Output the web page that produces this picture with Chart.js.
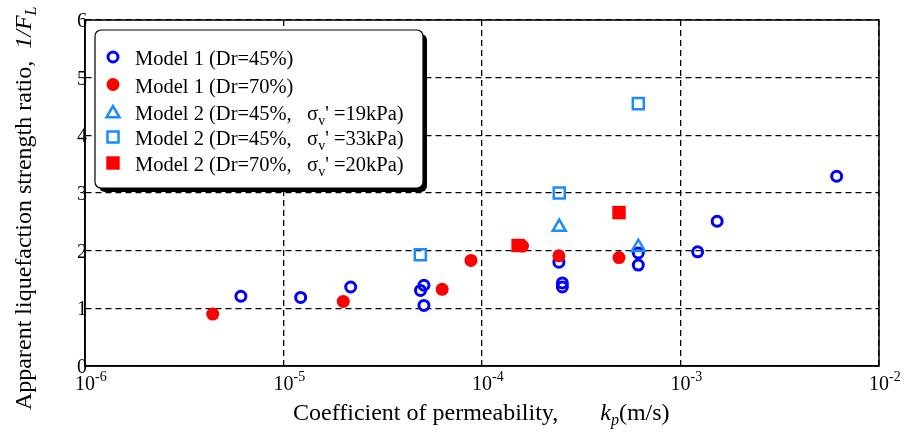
<!DOCTYPE html>
<html>
<head>
<meta charset="utf-8">
<script src="https://cdn.jsdelivr.net/npm/chart.js@4.4.0/dist/chart.umd.min.js"></script>
<style>
  html, body { margin: 0; padding: 0; background: #fff; }
  #wrap { width: 906px; height: 432px; position: relative; }
</style>
</head>
<body>
<div id="wrap"><canvas id="chart"></canvas></div>
<script>
// tick labels
const xTicks = [1e-6, 1e-5, 1e-4, 1e-3, 1e-2];
const xExps = ['-6', '-5', '-4', '-3', '-2'];
const yTicks = [0, 1, 2, 3, 4, 5, 6];

// Model 1 (Dr=45%)
const m1d45K = [6.1e-6, 1.22e-5, 2.18e-5, 4.9e-5, 5.1e-5, 5.1e-5, 2.44e-4, 2.54e-4, 2.54e-4, 6.13e-4, 6.13e-4, 1.22e-3, 1.53e-3, 6.12e-3];
const m1d45R = [1.21, 1.19, 1.37, 1.31, 1.40, 1.05, 1.80, 1.44, 1.37, 1.96, 1.75, 1.98, 2.51, 3.29];
// Model 1 (Dr=70%)
const m1d70K = [4.4e-6, 2.0e-5, 6.3e-5, 8.8e-5, 1.6e-4, 2.44e-4, 4.9e-4];
const m1d70R = [0.90, 1.12, 1.33, 1.83, 2.08, 1.91, 1.88];
// Model 2 (Dr=45%, 19kPa)
const m2s19K = [2.45e-4, 6.13e-4];
const m2s19R = [2.41, 2.06];
// Model 2 (Dr=45%, 33kPa)
const m2s33K = [4.89e-5, 2.45e-4, 6.13e-4];
const m2s33R = [1.93, 3.00, 4.55];
// Model 2 (Dr=70%, 20kPa)
const m2s20K = [1.52e-4, 4.9e-4];
const m2s20R = [2.09, 2.66];

const serif = '"Liberation Serif", "Times New Roman", serif';
const blue = '#0000ff';
const lightBlue = '#1a8cff';
const red = '#ff0000';

function pts(ks, rs) {
    return ks.map((k, i) => ({ x: k, y: rs[i] }));
}

const datasets = [
    { label: 'Model 1 (Dr=45%)', data: pts(m1d45K, m1d45R), pointStyle: 'circle', pointRadius: 5,
      pointBorderWidth: 3, pointBorderColor: blue, pointBackgroundColor: 'rgba(0,0,0,0)', order: 5 },
    { label: 'Model 1 (Dr=70%)', data: pts(m1d70K, m1d70R), pointStyle: 'circle', pointRadius: 6.5,
      pointBorderWidth: 0, pointBorderColor: red, pointBackgroundColor: red, order: 1 },
    { label: 'Model 2 (Dr=45%, 19kPa)', data: pts(m2s19K, m2s19R), pointStyle: 'triangle', pointRadius: 7.5,
      pointBorderWidth: 2.5, pointBorderColor: lightBlue, pointBackgroundColor: 'rgba(0,0,0,0)', order: 4 },
    { label: 'Model 2 (Dr=45%, 33kPa)', data: pts(m2s33K, m2s33R), pointStyle: 'rect', pointRadius: 7.8,
      pointBorderWidth: 2.5, pointBorderColor: lightBlue, pointBackgroundColor: 'rgba(0,0,0,0)', order: 3 },
    { label: 'Model 2 (Dr=70%, 20kPa)', data: pts(m2s20K, m2s20R), pointStyle: 'rect', pointRadius: 9.5,
      pointBorderWidth: 0, pointBorderColor: red, pointBackgroundColor: red, order: 2 }
];

// draw text pieces one after another
function rich(ctx, x, y, segs) {
    segs.forEach(s => {
        ctx.font = s.font;
        ctx.fillText(s.t, x, y + (s.dy || 0));
        x += ctx.measureText(s.t).width;
    });
    return x;
}

const f = (size, style) => (style ? style + ' ' : '') + size + 'px ' + serif;

const legendRows = [
    [{ t: 'Model 1 (Dr=45%)', font: f(20.5) }],
    [{ t: 'Model 1 (Dr=70%)', font: f(20.5) }],
    [{ t: 'Model 2 (Dr=45%,   σ', font: f(20.5) }, { t: 'v', font: f(14), dy: 5 }, { t: "' =19kPa)", font: f(20.5) }],
    [{ t: 'Model 2 (Dr=45%,   σ', font: f(20.5) }, { t: 'v', font: f(14), dy: 5 }, { t: "' =33kPa)", font: f(20.5) }],
    [{ t: 'Model 2 (Dr=70%,   σ', font: f(20.5) }, { t: 'v', font: f(14), dy: 5 }, { t: "' =20kPa)", font: f(20.5) }]
];
const legendBase = [65, 92.5, 119.5, 145, 171];

function roundRect(ctx, x, y, w, h, r) {
    ctx.beginPath();
    ctx.moveTo(x + r, y);
    ctx.arcTo(x + w, y, x + w, y + h, r);
    ctx.arcTo(x + w, y + h, x, y + h, r);
    ctx.arcTo(x, y + h, x, y, r);
    ctx.arcTo(x, y, x + w, y, r);
    ctx.closePath();
}

const decorPlugin = {
    id: 'decor',
    afterDraw(chart) {
        const ctx = chart.ctx;
        const area = chart.chartArea;
        const xs = chart.scales.x;
        const ys = chart.scales.y;
        ctx.save();

        // frame
        ctx.lineWidth = 1.5;
        ctx.strokeStyle = '#000';
        ctx.strokeRect(area.left, area.top, area.right - area.left, area.bottom - area.top);

        ctx.fillStyle = '#000';
        ctx.textBaseline = 'alphabetic';

        // y tick labels
        ctx.font = f(20);
        ctx.textAlign = 'center';
        yTicks.forEach(v => {
            ctx.fillText(String(v), area.left - 3, ys.getPixelForValue(v) + 7);
        });

        // x tick labels 10^n
        xTicks.forEach((v, i) => {
            const px = xs.getPixelForValue(v);
            ctx.font = f(20);
            ctx.textAlign = 'center';
            ctx.fillText('10', px, 390);
            const w = ctx.measureText('10').width;
            ctx.textAlign = 'left';
            ctx.font = f(14);
            ctx.fillText(xExps[i], px + w / 2, 381);
        });

        // x title
        ctx.textAlign = 'left';
        rich(ctx, 293, 420, [
            { t: 'Coefficient of permeability,       ', font: f(24) },
            { t: 'k', font: f(24, 'italic') },
            { t: 'p', font: f(16, 'italic'), dy: 5 },
            { t: '(m/s)', font: f(24) }
        ]);

        // y title
        ctx.save();
        ctx.translate(31, 410);
        ctx.rotate(-Math.PI / 2);
        rich(ctx, 0, 0, [
            { t: 'Apparent liquefaction strength ratio,  ', font: f(24) },
            { t: '1/F', font: f(24, 'italic') },
            { t: 'L', font: f(16, 'italic'), dy: 5 }
        ]);
        ctx.restore();

        // legend box with shadow
        ctx.fillStyle = '#000';
        roundRect(ctx, 99, 34, 328, 158, 6);
        ctx.fill();
        ctx.fillStyle = '#fff';
        roundRect(ctx, 95, 30, 328, 158, 6);
        ctx.fill();
        ctx.lineWidth = 1.2;
        ctx.strokeStyle = '#000';
        ctx.stroke();

        legendRows.forEach((segs, i) => {
            const ds = chart.data.datasets[i];
            const base = legendBase[i];
            ctx.fillStyle = ds.pointBackgroundColor;
            ctx.strokeStyle = ds.pointBorderColor;
            ctx.lineWidth = ds.pointBorderWidth;
            let my = base - 8;
            if (ds.pointStyle === 'triangle') my = base - 6;
            Chart.helpers.drawPoint(ctx, {
                pointStyle: ds.pointStyle,
                radius: ds.pointRadius,
                rotation: 0,
                borderWidth: ds.pointBorderWidth
            }, 113, my);
            ctx.fillStyle = '#000';
            ctx.textAlign = 'left';
            rich(ctx, 135, base, segs);
        });

        ctx.restore();
    }
};

new Chart(document.getElementById('chart'), {
    type: 'scatter',
    data: { datasets: datasets },
    options: {
        responsive: true,
        maintainAspectRatio: false,
        animation: false,
        events: [],
        layout: { autoPadding: false, padding: { left: 0, top: 20, right: 27, bottom: 0 } },
        plugins: { legend: { display: false }, tooltip: { enabled: false } },
        scales: {
            x: {
                type: 'logarithmic',
                min: 1e-6,
                max: 1e-2,
                afterBuildTicks: s => { s.ticks = xTicks.map(v => ({ value: v })); },
                afterFit: s => { s.height = 66; },
                ticks: { display: false },
                grid: { color: '#000', lineWidth: 1.3, drawTicks: false },
                border: { display: true, color: '#000', width: 1.5, dash: [6, 4] }
            },
            y: {
                min: 0,
                max: 6,
                afterBuildTicks: s => { s.ticks = yTicks.map(v => ({ value: v })); },
                afterFit: s => { s.width = 85; },
                ticks: { display: false },
                grid: { color: '#000', lineWidth: 1.3, drawTicks: false },
                border: { display: true, color: '#000', width: 1.5, dash: [6, 4] }
            }
        }
    },
    plugins: [decorPlugin]
});
</script>
</body>
</html>
